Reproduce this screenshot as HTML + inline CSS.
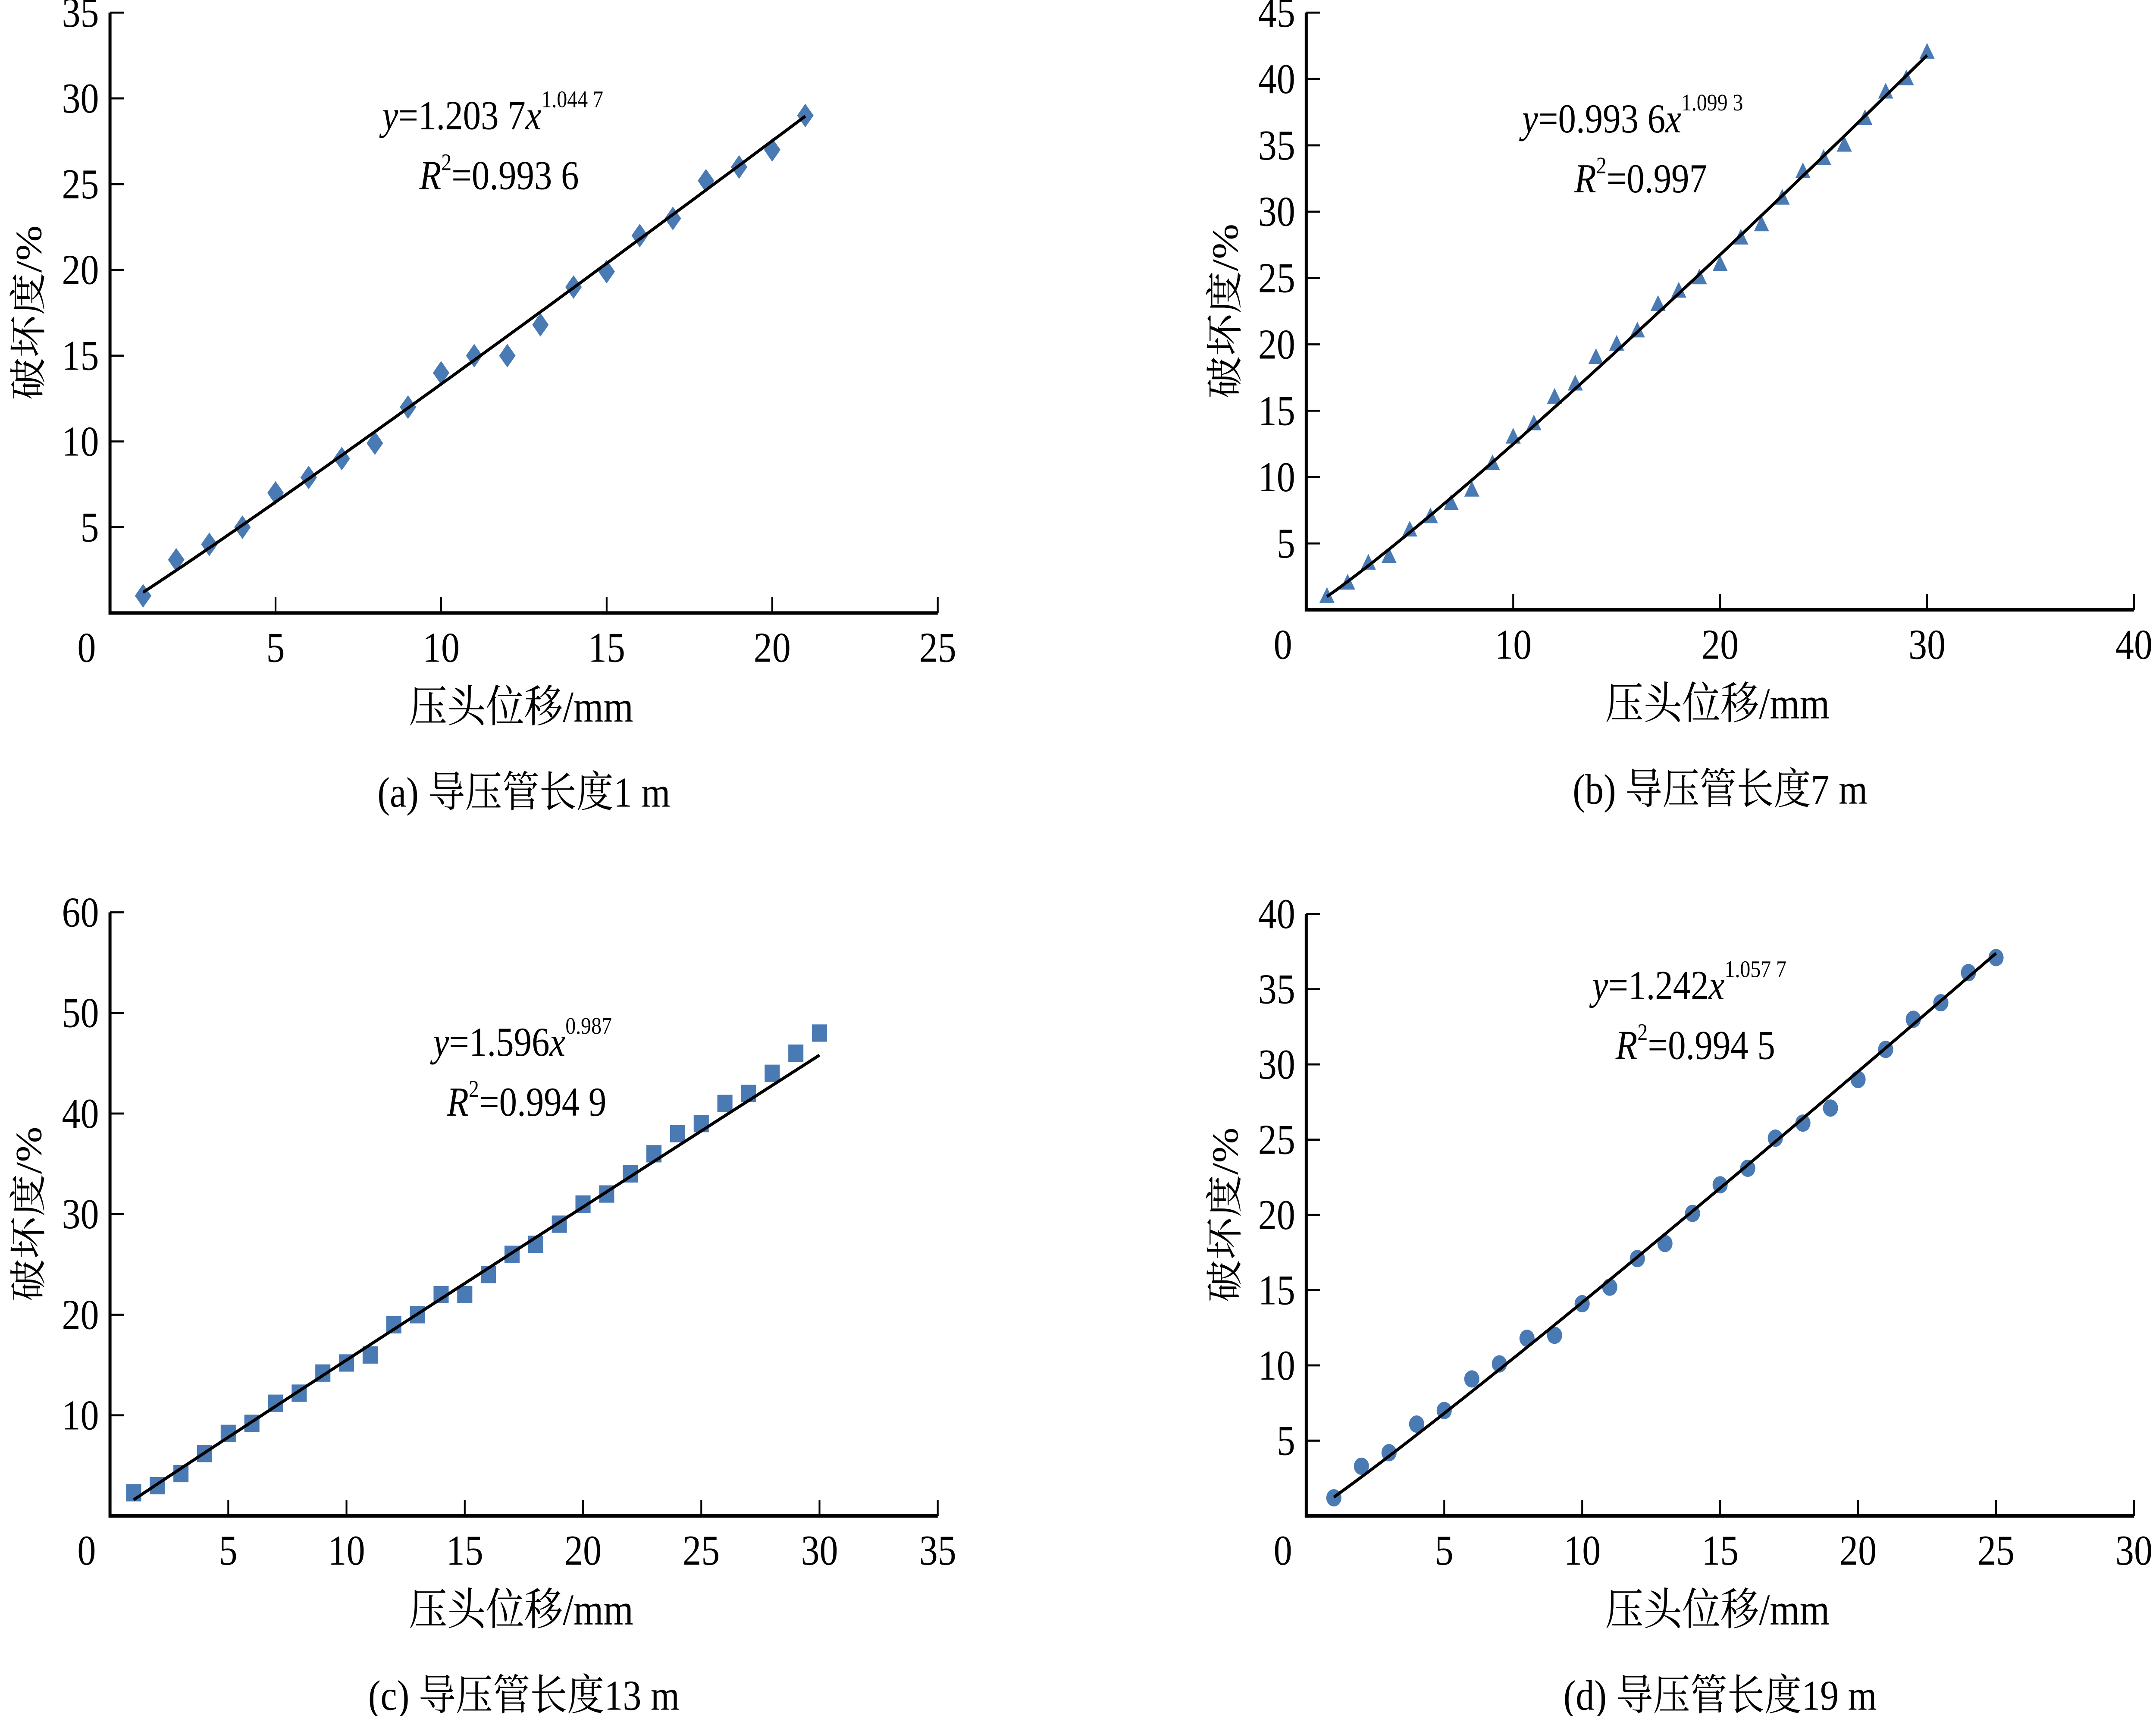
<!DOCTYPE html>
<html><head><meta charset="utf-8"><style>
html,body{margin:0;padding:0;background:#fff;overflow:hidden;}
svg{display:block;}
text{font-family:"Liberation Serif","Noto Serif CJK SC","Noto Sans CJK SC",serif;fill:#000;}
</style></head><body>
<svg id="fig" width="5730" height="3979" viewBox="0 0 1568 1089" preserveAspectRatio="none" xmlns="http://www.w3.org/2000/svg"></svg>
<script>
// Panel (a)
const aX=[1,2,3,4,5,6,7,8,9,10,11,12,13,14,15,16,17,18,19,20,21];
const aY=[1,3.1,4,5,7,7.9,9,9.9,12,14,15,15,16.8,19,19.9,22,23,25.2,26,27,29];
const aXTicks=[5,10,15,20,25];
const aYTicks=[5,10,15,20,25,30,35];
// Panel (b)
const bX=[1,2,3,4,5,6,7,8,9,10,11,12,13,14,15,16,17,18,19,20,21,22,23,24,25,26,27,28,29,30];
const bY=[1,2,3.5,4,6,7,8,9,11,13,14,16,17,19,20,21,23,24,25,26,28,29,31,33,34,35,37,39,40,42];
const bXTicks=[10,20,30,40];
const bYTicks=[5,10,15,20,25,30,35,40,45];
// Panel (c)
const cX=[1,2,3,4,5,6,7,8,9,10,11,12,13,14,15,16,17,18,19,20,21,22,23,24,25,26,27,28,29,30];
const cY=[2.3,3,4.2,6.2,8.2,9.2,11.2,12.2,14.2,15.2,16,19,20,22,22,24,26,27,29,31,32,34,36,38,39,41,42,44,46,48];
const cXTicks=[5,10,15,20,25,30,35];
const cYTicks=[10,20,30,40,50,60];
// Panel (d)
const dX=[1,2,3,4,5,6,7,8,9,10,11,12,13,14,15,16,17,18,19,20,21,22,23,24,25];
const dY=[1.2,3.3,4.2,6.1,7,9.1,10.1,11.8,12,14.1,15.2,17.1,18.1,20.1,22,23.1,25.1,26.1,27.1,29,31,33,34.1,36.1,37.1];
const dXTicks=[5,10,15,20,25,30];
const dYTicks=[5,10,15,20,25,30,35,40];
// Fit parameters
const fitA=[1.2037,1.0447], fitB=[0.9936,1.0993], fitC=[1.596,0.987], fitD=[1.242,1.0577];

const NS="http://www.w3.org/2000/svg";
const svg=document.getElementById('fig');
(function fit(){
  const w=document.documentElement.clientWidth||window.innerWidth||5730;
  const h=window.innerHeight||document.documentElement.clientHeight||3979;
  const W=(w>100&&w<5730)?w:5730;
  const H=(h>100&&h<5000)?h:3979;
  svg.setAttribute('width',W);svg.setAttribute('height',H);
  svg.style.width=W+'px';svg.style.height=H+'px';
})();
function mk(tag,attrs,parent){const e=document.createElementNS(NS,tag);for(const k in attrs)e.setAttribute(k,attrs[k]);(parent||svg).appendChild(e);return e;}
const COL="#4a7ab4";

function panel(id,box,xs,ys,xTicks,yTicks,xMax,yMax,fit,marker,eq,caption){
  const g=mk('g',{});
  
  
  const {L,R,T,B}=box;
  const sx=v=>L+(R-L)*v/xMax, sy=v=>B-(B-T)*v/yMax;
  const ax=mk('path',{d:`M${L},${T}V${B}H${R}`,fill:'none',stroke:'#000','stroke-width':2.2},g);
  
  
  xTicks.forEach(v=>{
    const x=sx(v);
    mk('line',{x1:x,y1:B,x2:x,y2:B-10,stroke:'#000','stroke-width':1.3},g);
    const t=mk('text',{x:x,y:B+31,'font-size':27,'text-anchor':'middle'},g);
    t.textContent=v;
    
    
  });
  const z=mk('text',{x:L-17,y:B+31,'font-size':27,'text-anchor':'middle'},g);z.textContent='0';
  
  
  yTicks.forEach(v=>{
    const y=sy(v);
    mk('line',{x1:L,y1:y,x2:L+10,y2:y,stroke:'#000','stroke-width':1.3},g);
    const t=mk('text',{x:L-8,y:y+9,'font-size':27,'text-anchor':'end'},g);
    t.textContent=v;
    
    
  });
  xs.forEach((xv,i)=>{
    const x=sx(xv),y=sy(ys[i]);let m;
    if(marker==='diamond')m=mk('polygon',{points:`${x},${y-7.5} ${x+6},${y} ${x},${y+7.5} ${x-6},${y}`,fill:COL},g);
    else if(marker==='triangle')m=mk('polygon',{points:`${x},${y-6} ${x+5.5},${y+4} ${x-5.5},${y+4}`,fill:COL},g);
    else if(marker==='square')m=mk('rect',{x:x-5.5,y:y-5.5,width:11,height:11,fill:COL},g);
    else m=mk('circle',{cx:x,cy:y,r:5.5,fill:COL},g);
    
    
  });
  let d='';const x0=xs[0],x1=xs[xs.length-1];
  for(let k=0;k<=60;k++){const xv=x0+(x1-x0)*k/60;const yv=fit[0]*Math.pow(xv,fit[1]);d+=(k?'L':'M')+sx(xv).toFixed(2)+','+sy(yv).toFixed(2);}
  const fl=mk('path',{d:d,fill:'none',stroke:'#000','stroke-width':2},g);
  
  
  const e1=mk('text',{x:eq.x,y:eq.y,'font-size':26},g);
  e1.innerHTML=`<tspan font-style="italic">y</tspan>=${eq.a}<tspan font-style="italic">x</tspan><tspan font-size="15" dy="-14">${eq.b}</tspan>`;
  
  
  const e2=mk('text',{x:eq.rx,y:eq.y+38,'font-size':26},g);
  e2.innerHTML=`<tspan font-style="italic">R</tspan><tspan font-size="15" dy="-12">2</tspan><tspan dy="12">=${eq.r}</tspan>`;
  
  
  const cy=(T+B)/2;
  const yt=mk('text',{x:0,y:0,'font-size':27,'text-anchor':'middle',transform:`translate(${L-50},${cy}) rotate(-90)`},g);
  yt.textContent='破坏度/%';
  
  
  const xt=mk('text',{x:(L+R)/2-2,y:B+69,'font-size':28,'text-anchor':'middle'},g);
  xt.textContent='压头位移/mm';
  
  
  const ct=mk('text',{x:(L+R)/2,y:B+123,'font-size':27,'text-anchor':'middle'},g);
  ct.textContent=caption;
  
  
}
panel('a',{L:80,R:682,T:8,B:389},aX,aY,aXTicks,aYTicks,25,35,fitA,'diamond',{x:278,y:82,a:'1.203 7',b:'1.044 7',rx:305,r:'0.993 6'},'(a)  导压管长度1 m');
panel('b',{L:950,R:1552,T:8,B:387},bX,bY,bXTicks,bYTicks,40,45,fitB,'triangle',{x:1107,y:84,a:'0.993 6',b:'1.099 3',rx:1145,r:'0.997'},'(b)  导压管长度7 m');
panel('c',{L:80,R:682,T:579,B:962},cX,cY,cXTicks,cYTicks,35,60,fitC,'square',{x:315,y:670,a:'1.596',b:'0.987',rx:325,r:'0.994 9'},'(c)  导压管长度13 m');
panel('d',{L:950,R:1552,T:580,B:962},dX,dY,dXTicks,dYTicks,30,40,fitD,'circle',{x:1158,y:634,a:'1.242',b:'1.057 7',rx:1175,r:'0.994 5'},'(d)  导压管长度19 m');
</script>
</body></html>
